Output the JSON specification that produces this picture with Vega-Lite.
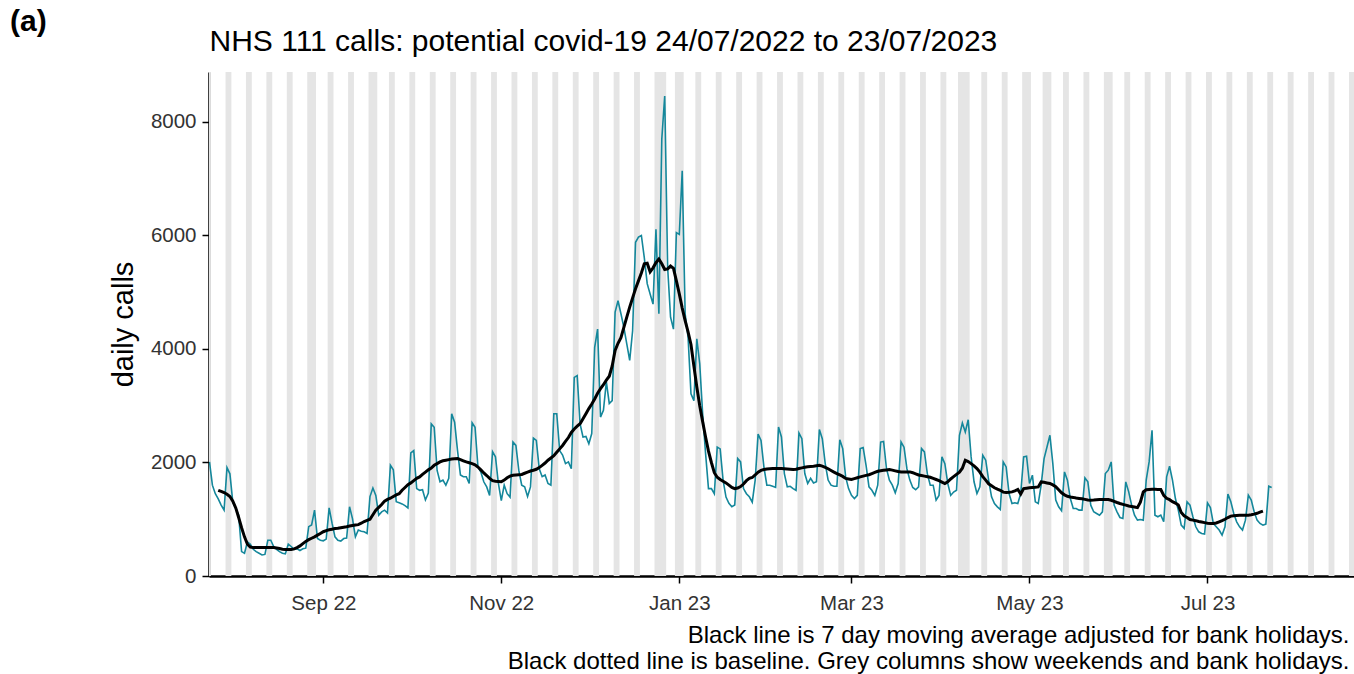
{
"$schema": "https://vega.github.io/schema/vega-lite/v6.json",
"width": 1145,
"height": 504,
"autosize": {"type": "none"},
"padding": {"left": 209, "top": 72, "right": 0, "bottom": 98},
"background": "white",
"config": {"view": {"stroke": null}, "font": "Liberation Sans"},
"title": {"text": "(a)", "anchor": "start", "frame": "group", "dx": -199, "dy": 15, "offset": 4, "fontSize": 30, "fontWeight": "bold", "color": "black", "font": "Liberation Sans"},
"datasets": {
"shading": [
{"start":"2022-07-22T12:00:00Z","end":"2022-07-24T12:00:00Z"},
{"start":"2022-07-29T12:00:00Z","end":"2022-07-31T12:00:00Z"},
{"start":"2022-08-05T12:00:00Z","end":"2022-08-07T12:00:00Z"},
{"start":"2022-08-12T12:00:00Z","end":"2022-08-14T12:00:00Z"},
{"start":"2022-08-19T12:00:00Z","end":"2022-08-21T12:00:00Z"},
{"start":"2022-08-26T12:00:00Z","end":"2022-08-29T12:00:00Z"},
{"start":"2022-09-02T12:00:00Z","end":"2022-09-04T12:00:00Z"},
{"start":"2022-09-09T12:00:00Z","end":"2022-09-11T12:00:00Z"},
{"start":"2022-09-16T12:00:00Z","end":"2022-09-19T12:00:00Z"},
{"start":"2022-09-23T12:00:00Z","end":"2022-09-25T12:00:00Z"},
{"start":"2022-09-30T12:00:00Z","end":"2022-10-02T12:00:00Z"},
{"start":"2022-10-07T12:00:00Z","end":"2022-10-09T12:00:00Z"},
{"start":"2022-10-14T12:00:00Z","end":"2022-10-16T12:00:00Z"},
{"start":"2022-10-21T12:00:00Z","end":"2022-10-23T12:00:00Z"},
{"start":"2022-10-28T12:00:00Z","end":"2022-10-30T12:00:00Z"},
{"start":"2022-11-04T12:00:00Z","end":"2022-11-06T12:00:00Z"},
{"start":"2022-11-11T12:00:00Z","end":"2022-11-13T12:00:00Z"},
{"start":"2022-11-18T12:00:00Z","end":"2022-11-20T12:00:00Z"},
{"start":"2022-11-25T12:00:00Z","end":"2022-11-27T12:00:00Z"},
{"start":"2022-12-02T12:00:00Z","end":"2022-12-04T12:00:00Z"},
{"start":"2022-12-09T12:00:00Z","end":"2022-12-11T12:00:00Z"},
{"start":"2022-12-16T12:00:00Z","end":"2022-12-18T12:00:00Z"},
{"start":"2022-12-23T12:00:00Z","end":"2022-12-27T12:00:00Z"},
{"start":"2022-12-30T12:00:00Z","end":"2023-01-02T12:00:00Z"},
{"start":"2023-01-06T12:00:00Z","end":"2023-01-08T12:00:00Z"},
{"start":"2023-01-13T12:00:00Z","end":"2023-01-15T12:00:00Z"},
{"start":"2023-01-20T12:00:00Z","end":"2023-01-22T12:00:00Z"},
{"start":"2023-01-27T12:00:00Z","end":"2023-01-29T12:00:00Z"},
{"start":"2023-02-03T12:00:00Z","end":"2023-02-05T12:00:00Z"},
{"start":"2023-02-10T12:00:00Z","end":"2023-02-12T12:00:00Z"},
{"start":"2023-02-17T12:00:00Z","end":"2023-02-19T12:00:00Z"},
{"start":"2023-02-24T12:00:00Z","end":"2023-02-26T12:00:00Z"},
{"start":"2023-03-03T12:00:00Z","end":"2023-03-05T12:00:00Z"},
{"start":"2023-03-10T12:00:00Z","end":"2023-03-12T12:00:00Z"},
{"start":"2023-03-17T12:00:00Z","end":"2023-03-19T12:00:00Z"},
{"start":"2023-03-24T12:00:00Z","end":"2023-03-26T12:00:00Z"},
{"start":"2023-03-31T12:00:00Z","end":"2023-04-02T12:00:00Z"},
{"start":"2023-04-06T12:00:00Z","end":"2023-04-10T12:00:00Z"},
{"start":"2023-04-14T12:00:00Z","end":"2023-04-16T12:00:00Z"},
{"start":"2023-04-21T12:00:00Z","end":"2023-04-23T12:00:00Z"},
{"start":"2023-04-28T12:00:00Z","end":"2023-05-01T12:00:00Z"},
{"start":"2023-05-05T12:00:00Z","end":"2023-05-08T12:00:00Z"},
{"start":"2023-05-12T12:00:00Z","end":"2023-05-14T12:00:00Z"},
{"start":"2023-05-19T12:00:00Z","end":"2023-05-21T12:00:00Z"},
{"start":"2023-05-26T12:00:00Z","end":"2023-05-29T12:00:00Z"},
{"start":"2023-06-02T12:00:00Z","end":"2023-06-04T12:00:00Z"},
{"start":"2023-06-09T12:00:00Z","end":"2023-06-11T12:00:00Z"},
{"start":"2023-06-16T12:00:00Z","end":"2023-06-18T12:00:00Z"},
{"start":"2023-06-23T12:00:00Z","end":"2023-06-25T12:00:00Z"},
{"start":"2023-06-30T12:00:00Z","end":"2023-07-02T12:00:00Z"},
{"start":"2023-07-07T12:00:00Z","end":"2023-07-09T12:00:00Z"},
{"start":"2023-07-14T12:00:00Z","end":"2023-07-16T12:00:00Z"},
{"start":"2023-07-21T12:00:00Z","end":"2023-07-23T12:00:00Z"},
{"start":"2023-07-28T12:00:00Z","end":"2023-07-30T12:00:00Z"},
{"start":"2023-08-04T12:00:00Z","end":"2023-08-06T12:00:00Z"},
{"start":"2023-08-11T12:00:00Z","end":"2023-08-13T12:00:00Z"},
{"start":"2023-08-18T12:00:00Z","end":"2023-08-20T12:00:00Z"}
],
"calls": [
{"date":"2022-07-24","calls":2010,"ma":null},
{"date":"2022-07-25","calls":1600,"ma":null},
{"date":"2022-07-26","calls":1450,"ma":null},
{"date":"2022-07-27","calls":1360,"ma":1510},
{"date":"2022-07-28","calls":1250,"ma":1490},
{"date":"2022-07-29","calls":1160,"ma":1470},
{"date":"2022-07-30","calls":1910,"ma":1440},
{"date":"2022-07-31","calls":1800,"ma":1400},
{"date":"2022-08-01","calls":1300,"ma":1320},
{"date":"2022-08-02","calls":1190,"ma":1200},
{"date":"2022-08-03","calls":1070,"ma":1030},
{"date":"2022-08-04","calls":430,"ma":850},
{"date":"2022-08-05","calls":400,"ma":690},
{"date":"2022-08-06","calls":600,"ma":560},
{"date":"2022-08-07","calls":560,"ma":510},
{"date":"2022-08-08","calls":470,"ma":500},
{"date":"2022-08-09","calls":430,"ma":500},
{"date":"2022-08-10","calls":400,"ma":500},
{"date":"2022-08-11","calls":370,"ma":500},
{"date":"2022-08-12","calls":380,"ma":500},
{"date":"2022-08-13","calls":630,"ma":500},
{"date":"2022-08-14","calls":630,"ma":500},
{"date":"2022-08-15","calls":520,"ma":500},
{"date":"2022-08-16","calls":470,"ma":495},
{"date":"2022-08-17","calls":430,"ma":485},
{"date":"2022-08-18","calls":400,"ma":472},
{"date":"2022-08-19","calls":390,"ma":468},
{"date":"2022-08-20","calls":560,"ma":465},
{"date":"2022-08-21","calls":520,"ma":468},
{"date":"2022-08-22","calls":470,"ma":478},
{"date":"2022-08-23","calls":480,"ma":500},
{"date":"2022-08-24","calls":450,"ma":530},
{"date":"2022-08-25","calls":480,"ma":570},
{"date":"2022-08-26","calls":490,"ma":610},
{"date":"2022-08-27","calls":870,"ma":640},
{"date":"2022-08-28","calls":900,"ma":665},
{"date":"2022-08-29","calls":1160,"ma":690},
{"date":"2022-08-30","calls":660,"ma":720},
{"date":"2022-08-31","calls":630,"ma":750},
{"date":"2022-09-01","calls":620,"ma":780},
{"date":"2022-09-02","calls":650,"ma":800},
{"date":"2022-09-03","calls":1200,"ma":815},
{"date":"2022-09-04","calls":930,"ma":825},
{"date":"2022-09-05","calls":690,"ma":835},
{"date":"2022-09-06","calls":630,"ma":840},
{"date":"2022-09-07","calls":615,"ma":850},
{"date":"2022-09-08","calls":660,"ma":860},
{"date":"2022-09-09","calls":670,"ma":868},
{"date":"2022-09-10","calls":1220,"ma":880},
{"date":"2022-09-11","calls":1010,"ma":890},
{"date":"2022-09-12","calls":690,"ma":900},
{"date":"2022-09-13","calls":810,"ma":905},
{"date":"2022-09-14","calls":790,"ma":930},
{"date":"2022-09-15","calls":780,"ma":960},
{"date":"2022-09-16","calls":750,"ma":980},
{"date":"2022-09-17","calls":1400,"ma":1000},
{"date":"2022-09-18","calls":1550,"ma":1080},
{"date":"2022-09-19","calls":1420,"ma":1160},
{"date":"2022-09-20","calls":1070,"ma":1210},
{"date":"2022-09-21","calls":1130,"ma":1260},
{"date":"2022-09-22","calls":1160,"ma":1320},
{"date":"2022-09-23","calls":1110,"ma":1350},
{"date":"2022-09-24","calls":1950,"ma":1370},
{"date":"2022-09-25","calls":1870,"ma":1400},
{"date":"2022-09-26","calls":1310,"ma":1430},
{"date":"2022-09-27","calls":1290,"ma":1450},
{"date":"2022-09-28","calls":1270,"ma":1510},
{"date":"2022-09-29","calls":1240,"ma":1560},
{"date":"2022-09-30","calls":1200,"ma":1610},
{"date":"2022-10-01","calls":2170,"ma":1640},
{"date":"2022-10-02","calls":2210,"ma":1680},
{"date":"2022-10-03","calls":1540,"ma":1720},
{"date":"2022-10-04","calls":1510,"ma":1746},
{"date":"2022-10-05","calls":1520,"ma":1790},
{"date":"2022-10-06","calls":1340,"ma":1830},
{"date":"2022-10-07","calls":1460,"ma":1870},
{"date":"2022-10-08","calls":2680,"ma":1900},
{"date":"2022-10-09","calls":2620,"ma":1950},
{"date":"2022-10-10","calls":1860,"ma":1980},
{"date":"2022-10-11","calls":1660,"ma":2010},
{"date":"2022-10-12","calls":1690,"ma":2030},
{"date":"2022-10-13","calls":1600,"ma":2040},
{"date":"2022-10-14","calls":1720,"ma":2050},
{"date":"2022-10-15","calls":2860,"ma":2060},
{"date":"2022-10-16","calls":2710,"ma":2065},
{"date":"2022-10-17","calls":2210,"ma":2068},
{"date":"2022-10-18","calls":1780,"ma":2050},
{"date":"2022-10-19","calls":1750,"ma":2030},
{"date":"2022-10-20","calls":1750,"ma":2010},
{"date":"2022-10-21","calls":1630,"ma":1995},
{"date":"2022-10-22","calls":2700,"ma":1980},
{"date":"2022-10-23","calls":2620,"ma":1960},
{"date":"2022-10-24","calls":1920,"ma":1920},
{"date":"2022-10-25","calls":1830,"ma":1870},
{"date":"2022-10-26","calls":1660,"ma":1815},
{"date":"2022-10-27","calls":1570,"ma":1770},
{"date":"2022-10-28","calls":1420,"ma":1720},
{"date":"2022-10-29","calls":2190,"ma":1680},
{"date":"2022-10-30","calls":2100,"ma":1670},
{"date":"2022-10-31","calls":1630,"ma":1665},
{"date":"2022-11-01","calls":1330,"ma":1660},
{"date":"2022-11-02","calls":1600,"ma":1690},
{"date":"2022-11-03","calls":1450,"ma":1730},
{"date":"2022-11-04","calls":1390,"ma":1760},
{"date":"2022-11-05","calls":2360,"ma":1776},
{"date":"2022-11-06","calls":2300,"ma":1780},
{"date":"2022-11-07","calls":1860,"ma":1785},
{"date":"2022-11-08","calls":1600,"ma":1790},
{"date":"2022-11-09","calls":1570,"ma":1810},
{"date":"2022-11-10","calls":1400,"ma":1830},
{"date":"2022-11-11","calls":1570,"ma":1850},
{"date":"2022-11-12","calls":2430,"ma":1863},
{"date":"2022-11-13","calls":2390,"ma":1880},
{"date":"2022-11-14","calls":1890,"ma":1910},
{"date":"2022-11-15","calls":1750,"ma":1950},
{"date":"2022-11-16","calls":1780,"ma":1990},
{"date":"2022-11-17","calls":1630,"ma":2040},
{"date":"2022-11-18","calls":1600,"ma":2080},
{"date":"2022-11-19","calls":2860,"ma":2120},
{"date":"2022-11-20","calls":2860,"ma":2180},
{"date":"2022-11-21","calls":2210,"ma":2240},
{"date":"2022-11-22","calls":2130,"ma":2300},
{"date":"2022-11-23","calls":1980,"ma":2370},
{"date":"2022-11-24","calls":2010,"ma":2440},
{"date":"2022-11-25","calls":1890,"ma":2530},
{"date":"2022-11-26","calls":3500,"ma":2590},
{"date":"2022-11-27","calls":3530,"ma":2640},
{"date":"2022-11-28","calls":2680,"ma":2684},
{"date":"2022-11-29","calls":2450,"ma":2770},
{"date":"2022-11-30","calls":2460,"ma":2860},
{"date":"2022-12-01","calls":2330,"ma":2950},
{"date":"2022-12-02","calls":2510,"ma":3030},
{"date":"2022-12-03","calls":4030,"ma":3120},
{"date":"2022-12-04","calls":4350,"ma":3220},
{"date":"2022-12-05","calls":2800,"ma":3300},
{"date":"2022-12-06","calls":2920,"ma":3370},
{"date":"2022-12-07","calls":3420,"ma":3450},
{"date":"2022-12-08","calls":3040,"ma":3520},
{"date":"2022-12-09","calls":3090,"ma":3700},
{"date":"2022-12-10","calls":4650,"ma":3974},
{"date":"2022-12-11","calls":4850,"ma":4100},
{"date":"2022-12-12","calls":4620,"ma":4200},
{"date":"2022-12-13","calls":4380,"ma":4380},
{"date":"2022-12-14","calls":4090,"ma":4560},
{"date":"2022-12-15","calls":3800,"ma":4736},
{"date":"2022-12-16","calls":4320,"ma":4900},
{"date":"2022-12-17","calls":5880,"ma":5060},
{"date":"2022-12-18","calls":5970,"ma":5200},
{"date":"2022-12-19","calls":6000,"ma":5340},
{"date":"2022-12-20","calls":5610,"ma":5500},
{"date":"2022-12-21","calls":5150,"ma":5510},
{"date":"2022-12-22","calls":4970,"ma":5360},
{"date":"2022-12-23","calls":4790,"ma":5430},
{"date":"2022-12-24","calls":6110,"ma":5520},
{"date":"2022-12-25","calls":4620,"ma":5585},
{"date":"2022-12-26","calls":7700,"ma":5500},
{"date":"2022-12-27","calls":8457,"ma":5400},
{"date":"2022-12-28","calls":5440,"ma":5410},
{"date":"2022-12-29","calls":4560,"ma":5460},
{"date":"2022-12-30","calls":4350,"ma":5420},
{"date":"2022-12-31","calls":6050,"ma":5200},
{"date":"2023-01-01","calls":6020,"ma":4970},
{"date":"2023-01-02","calls":7140,"ma":4720},
{"date":"2023-01-03","calls":4620,"ma":4500},
{"date":"2023-01-04","calls":4210,"ma":4300},
{"date":"2023-01-05","calls":3210,"ma":4080},
{"date":"2023-01-06","calls":3090,"ma":3700},
{"date":"2023-01-07","calls":4180,"ma":3330},
{"date":"2023-01-08","calls":3740,"ma":3000},
{"date":"2023-01-09","calls":2860,"ma":2720},
{"date":"2023-01-10","calls":2160,"ma":2450},
{"date":"2023-01-11","calls":1540,"ma":2200},
{"date":"2023-01-12","calls":1540,"ma":2000},
{"date":"2023-01-13","calls":1450,"ma":1820},
{"date":"2023-01-14","calls":2270,"ma":1740},
{"date":"2023-01-15","calls":2240,"ma":1700},
{"date":"2023-01-16","calls":1690,"ma":1670},
{"date":"2023-01-17","calls":1390,"ma":1640},
{"date":"2023-01-18","calls":1280,"ma":1600},
{"date":"2023-01-19","calls":1220,"ma":1560},
{"date":"2023-01-20","calls":1250,"ma":1540},
{"date":"2023-01-21","calls":2070,"ma":1550},
{"date":"2023-01-22","calls":2010,"ma":1575},
{"date":"2023-01-23","calls":1540,"ma":1620},
{"date":"2023-01-24","calls":1450,"ma":1680},
{"date":"2023-01-25","calls":1395,"ma":1720},
{"date":"2023-01-26","calls":1300,"ma":1735},
{"date":"2023-01-27","calls":1690,"ma":1780},
{"date":"2023-01-28","calls":2500,"ma":1830},
{"date":"2023-01-29","calls":2390,"ma":1860},
{"date":"2023-01-30","calls":1920,"ma":1875},
{"date":"2023-01-31","calls":1600,"ma":1885},
{"date":"2023-02-01","calls":1600,"ma":1890},
{"date":"2023-02-02","calls":1580,"ma":1893},
{"date":"2023-02-03","calls":1560,"ma":1893},
{"date":"2023-02-04","calls":2625,"ma":1893},
{"date":"2023-02-05","calls":2450,"ma":1893},
{"date":"2023-02-06","calls":1805,"ma":1890},
{"date":"2023-02-07","calls":1570,"ma":1885},
{"date":"2023-02-08","calls":1580,"ma":1880},
{"date":"2023-02-09","calls":1540,"ma":1875},
{"date":"2023-02-10","calls":1510,"ma":1880},
{"date":"2023-02-11","calls":2520,"ma":1895},
{"date":"2023-02-12","calls":2420,"ma":1905},
{"date":"2023-02-13","calls":1805,"ma":1915},
{"date":"2023-02-14","calls":1630,"ma":1925},
{"date":"2023-02-15","calls":1720,"ma":1930},
{"date":"2023-02-16","calls":1640,"ma":1934},
{"date":"2023-02-17","calls":1660,"ma":1942},
{"date":"2023-02-18","calls":2580,"ma":1950},
{"date":"2023-02-19","calls":2420,"ma":1935},
{"date":"2023-02-20","calls":1980,"ma":1915},
{"date":"2023-02-21","calls":1690,"ma":1890},
{"date":"2023-02-22","calls":1600,"ma":1860},
{"date":"2023-02-23","calls":1580,"ma":1830},
{"date":"2023-02-24","calls":1580,"ma":1805},
{"date":"2023-02-25","calls":2400,"ma":1780},
{"date":"2023-02-26","calls":2245,"ma":1755},
{"date":"2023-02-27","calls":1746,"ma":1720},
{"date":"2023-02-28","calls":1540,"ma":1710},
{"date":"2023-03-01","calls":1420,"ma":1700},
{"date":"2023-03-02","calls":1365,"ma":1715},
{"date":"2023-03-03","calls":1420,"ma":1730},
{"date":"2023-03-04","calls":2245,"ma":1746},
{"date":"2023-03-05","calls":2262,"ma":1760},
{"date":"2023-03-06","calls":1950,"ma":1773},
{"date":"2023-03-07","calls":1570,"ma":1785},
{"date":"2023-03-08","calls":1510,"ma":1805},
{"date":"2023-03-09","calls":1420,"ma":1825},
{"date":"2023-03-10","calls":1600,"ma":1845},
{"date":"2023-03-11","calls":2360,"ma":1855},
{"date":"2023-03-12","calls":2370,"ma":1862},
{"date":"2023-03-13","calls":1890,"ma":1868},
{"date":"2023-03-14","calls":1690,"ma":1875},
{"date":"2023-03-15","calls":1600,"ma":1865},
{"date":"2023-03-16","calls":1465,"ma":1852},
{"date":"2023-03-17","calls":1630,"ma":1840},
{"date":"2023-03-18","calls":2360,"ma":1834},
{"date":"2023-03-19","calls":2270,"ma":1834},
{"date":"2023-03-20","calls":1890,"ma":1834},
{"date":"2023-03-21","calls":1690,"ma":1834},
{"date":"2023-03-22","calls":1560,"ma":1820},
{"date":"2023-03-23","calls":1520,"ma":1800},
{"date":"2023-03-24","calls":1570,"ma":1780},
{"date":"2023-03-25","calls":2245,"ma":1770},
{"date":"2023-03-26","calls":2186,"ma":1760},
{"date":"2023-03-27","calls":1800,"ma":1750},
{"date":"2023-03-28","calls":1600,"ma":1740},
{"date":"2023-03-29","calls":1600,"ma":1720},
{"date":"2023-03-30","calls":1336,"ma":1700},
{"date":"2023-03-31","calls":1420,"ma":1680},
{"date":"2023-04-01","calls":2098,"ma":1655},
{"date":"2023-04-02","calls":1980,"ma":1630},
{"date":"2023-04-03","calls":1630,"ma":1660},
{"date":"2023-04-04","calls":1420,"ma":1710},
{"date":"2023-04-05","calls":1480,"ma":1750},
{"date":"2023-04-06","calls":1510,"ma":1790},
{"date":"2023-04-07","calls":2480,"ma":1830},
{"date":"2023-04-08","calls":2696,"ma":1900},
{"date":"2023-04-09","calls":2538,"ma":2040},
{"date":"2023-04-10","calls":2754,"ma":2015},
{"date":"2023-04-11","calls":2098,"ma":1980},
{"date":"2023-04-12","calls":1660,"ma":1940},
{"date":"2023-04-13","calls":1453,"ma":1893},
{"date":"2023-04-14","calls":1570,"ma":1830},
{"date":"2023-04-15","calls":2127,"ma":1750},
{"date":"2023-04-16","calls":2040,"ma":1690},
{"date":"2023-04-17","calls":1688,"ma":1625},
{"date":"2023-04-18","calls":1395,"ma":1590},
{"date":"2023-04-19","calls":1277,"ma":1555},
{"date":"2023-04-20","calls":1219,"ma":1530},
{"date":"2023-04-21","calls":1172,"ma":1510},
{"date":"2023-04-22","calls":2010,"ma":1478},
{"date":"2023-04-23","calls":1922,"ma":1470},
{"date":"2023-04-24","calls":1453,"ma":1475},
{"date":"2023-04-25","calls":1277,"ma":1482},
{"date":"2023-04-26","calls":1290,"ma":1500},
{"date":"2023-04-27","calls":1277,"ma":1524},
{"date":"2023-04-28","calls":1453,"ma":1445},
{"date":"2023-04-29","calls":2098,"ma":1541},
{"date":"2023-04-30","calls":2110,"ma":1548},
{"date":"2023-05-01","calls":1630,"ma":1553},
{"date":"2023-05-02","calls":1776,"ma":1558},
{"date":"2023-05-03","calls":1307,"ma":1563},
{"date":"2023-05-04","calls":1277,"ma":1570},
{"date":"2023-05-05","calls":1600,"ma":1658},
{"date":"2023-05-06","calls":2069,"ma":1650},
{"date":"2023-05-07","calls":2274,"ma":1640},
{"date":"2023-05-08","calls":2479,"ma":1630},
{"date":"2023-05-09","calls":1981,"ma":1605},
{"date":"2023-05-10","calls":1336,"ma":1575},
{"date":"2023-05-11","calls":1219,"ma":1520},
{"date":"2023-05-12","calls":1149,"ma":1465},
{"date":"2023-05-13","calls":1834,"ma":1430},
{"date":"2023-05-14","calls":1688,"ma":1405},
{"date":"2023-05-15","calls":1365,"ma":1392},
{"date":"2023-05-16","calls":1190,"ma":1385},
{"date":"2023-05-17","calls":1190,"ma":1375},
{"date":"2023-05-18","calls":1160,"ma":1367},
{"date":"2023-05-19","calls":1160,"ma":1360},
{"date":"2023-05-20","calls":1729,"ma":1350},
{"date":"2023-05-21","calls":1660,"ma":1340},
{"date":"2023-05-22","calls":1248,"ma":1336},
{"date":"2023-05-23","calls":1131,"ma":1338},
{"date":"2023-05-24","calls":1102,"ma":1342},
{"date":"2023-05-25","calls":1072,"ma":1346},
{"date":"2023-05-26","calls":1131,"ma":1350},
{"date":"2023-05-27","calls":1805,"ma":1350},
{"date":"2023-05-28","calls":1864,"ma":1348},
{"date":"2023-05-29","calls":2010,"ma":1335},
{"date":"2023-05-30","calls":1248,"ma":1315},
{"date":"2023-05-31","calls":1131,"ma":1295},
{"date":"2023-06-01","calls":1031,"ma":1277},
{"date":"2023-06-02","calls":1014,"ma":1262},
{"date":"2023-06-03","calls":1658,"ma":1248},
{"date":"2023-06-04","calls":1483,"ma":1234},
{"date":"2023-06-05","calls":1248,"ma":1225},
{"date":"2023-06-06","calls":1072,"ma":1215},
{"date":"2023-06-07","calls":984,"ma":1205},
{"date":"2023-06-08","calls":996,"ma":1300},
{"date":"2023-06-09","calls":984,"ma":1480},
{"date":"2023-06-10","calls":1688,"ma":1520},
{"date":"2023-06-11","calls":2010,"ma":1525},
{"date":"2023-06-12","calls":2567,"ma":1529},
{"date":"2023-06-13","calls":1072,"ma":1528},
{"date":"2023-06-14","calls":1043,"ma":1526},
{"date":"2023-06-15","calls":1072,"ma":1524},
{"date":"2023-06-16","calls":955,"ma":1420},
{"date":"2023-06-17","calls":1746,"ma":1370},
{"date":"2023-06-18","calls":1934,"ma":1345},
{"date":"2023-06-19","calls":1688,"ma":1310},
{"date":"2023-06-20","calls":1365,"ma":1285},
{"date":"2023-06-21","calls":1160,"ma":1250},
{"date":"2023-06-22","calls":896,"ma":1120},
{"date":"2023-06-23","calls":838,"ma":1060},
{"date":"2023-06-24","calls":1307,"ma":1030},
{"date":"2023-06-25","calls":1248,"ma":996},
{"date":"2023-06-26","calls":1043,"ma":985},
{"date":"2023-06-27","calls":867,"ma":975},
{"date":"2023-06-28","calls":779,"ma":960},
{"date":"2023-06-29","calls":750,"ma":950},
{"date":"2023-06-30","calls":738,"ma":940},
{"date":"2023-07-01","calls":1289,"ma":930},
{"date":"2023-07-02","calls":1207,"ma":926},
{"date":"2023-07-03","calls":926,"ma":926},
{"date":"2023-07-04","calls":867,"ma":935},
{"date":"2023-07-05","calls":809,"ma":955},
{"date":"2023-07-06","calls":721,"ma":975},
{"date":"2023-07-07","calls":867,"ma":1000},
{"date":"2023-07-08","calls":1442,"ma":1030},
{"date":"2023-07-09","calls":1307,"ma":1055},
{"date":"2023-07-10","calls":1102,"ma":1062},
{"date":"2023-07-11","calls":955,"ma":1068},
{"date":"2023-07-12","calls":867,"ma":1072},
{"date":"2023-07-13","calls":809,"ma":1072},
{"date":"2023-07-14","calls":984,"ma":1072},
{"date":"2023-07-15","calls":1424,"ma":1072},
{"date":"2023-07-16","calls":1336,"ma":1080},
{"date":"2023-07-17","calls":1131,"ma":1090},
{"date":"2023-07-18","calls":984,"ma":1105},
{"date":"2023-07-19","calls":926,"ma":1125},
{"date":"2023-07-20","calls":896,"ma":1143},
{"date":"2023-07-21","calls":914,"ma":null},
{"date":"2023-07-22","calls":1582,"ma":null},
{"date":"2023-07-23","calls":1559,"ma":null}
]
},
"layer": [
{
"data": {"name": "shading"},
"mark": {"type": "rect", "color": "#e5e5e5", "clip": true},
"encoding": {
"x": {"field": "start", "type": "temporal",
"scale": {"type": "utc", "domain": [{"year": 2022, "month": 7, "date": 23, "hours": 20, "utc": true}, {"year": 2023, "month": 8, "date": 20, "hours": 5, "utc": true}]},
"axis": {"orient": "top", "labels": false, "ticks": false, "domain": false, "grid": false,
"title": "NHS 111 calls: potential covid-19 24/07/2022 to 23/07/2023",
"titleX": 0, "titleY": -22, "titleAlign": "left", "titleAnchor": "start", "titleBaseline": "alphabetic",
"titleFontSize": 30, "titleFontWeight": "normal", "titleColor": "black", "titleFont": "Liberation Sans"}},
"x2": {"field": "end"}
}
},
{
"data": {"name": "calls"},
"mark": {"type": "line", "color": "#14879b", "strokeWidth": 1.6, "clip": true},
"encoding": {
"x": {"field": "date", "type": "temporal",
"axis": {"orient": "bottom", "labelExpr": "utcFormat(datum.value, '%b %y')", "tickCount": {"interval": "month", "step": 2},
"labelFontSize": 20.5, "labelColor": "#333333", "labelFont": "Liberation Sans", "labelPadding": 10,
"tickSize": 7, "tickWidth": 1.5, "tickColor": "black", "domainColor": "black", "domainWidth": 2.5, "grid": false,
"title": ["Black line is 7 day moving average adjusted for bank holidays.", "Black dotted line is baseline. Grey columns show weekends and bank holidays."],
"titleX": 1140, "titleY": 66, "titleAlign": "right", "titleBaseline": "alphabetic", "titleLineHeight": 26,
"titleFontSize": 24, "titleFontWeight": "normal", "titleColor": "black", "titleFont": "Liberation Sans"}},
"y": {"field": "calls", "type": "quantitative",
"scale": {"domain": [0, 8880], "nice": false, "zero": true},
"axis": {"values": [0, 2000, 4000, 6000, 8000], "format": "d", "grid": false,
"labelFontSize": 20.5, "labelColor": "#333333", "labelFont": "Liberation Sans", "labelPadding": 6,
"tickSize": 7, "tickWidth": 1.5, "tickColor": "black", "domainColor": "black", "domainWidth": 2.5,
"title": "daily calls", "titleFontSize": 29, "titleFontWeight": "normal", "titleColor": "black", "titleFont": "Liberation Sans", "titlePadding": 12}}
}
},
{
"data": {"name": "calls"},
"mark": {"type": "line", "color": "black", "strokeWidth": 3, "clip": true},
"encoding": {
"x": {"field": "date", "type": "temporal", "axis": null},
"y": {"field": "ma", "type": "quantitative", "title": "daily calls"}
}
}
],
"resolve": {"axis": {"x": "independent"}}
}
